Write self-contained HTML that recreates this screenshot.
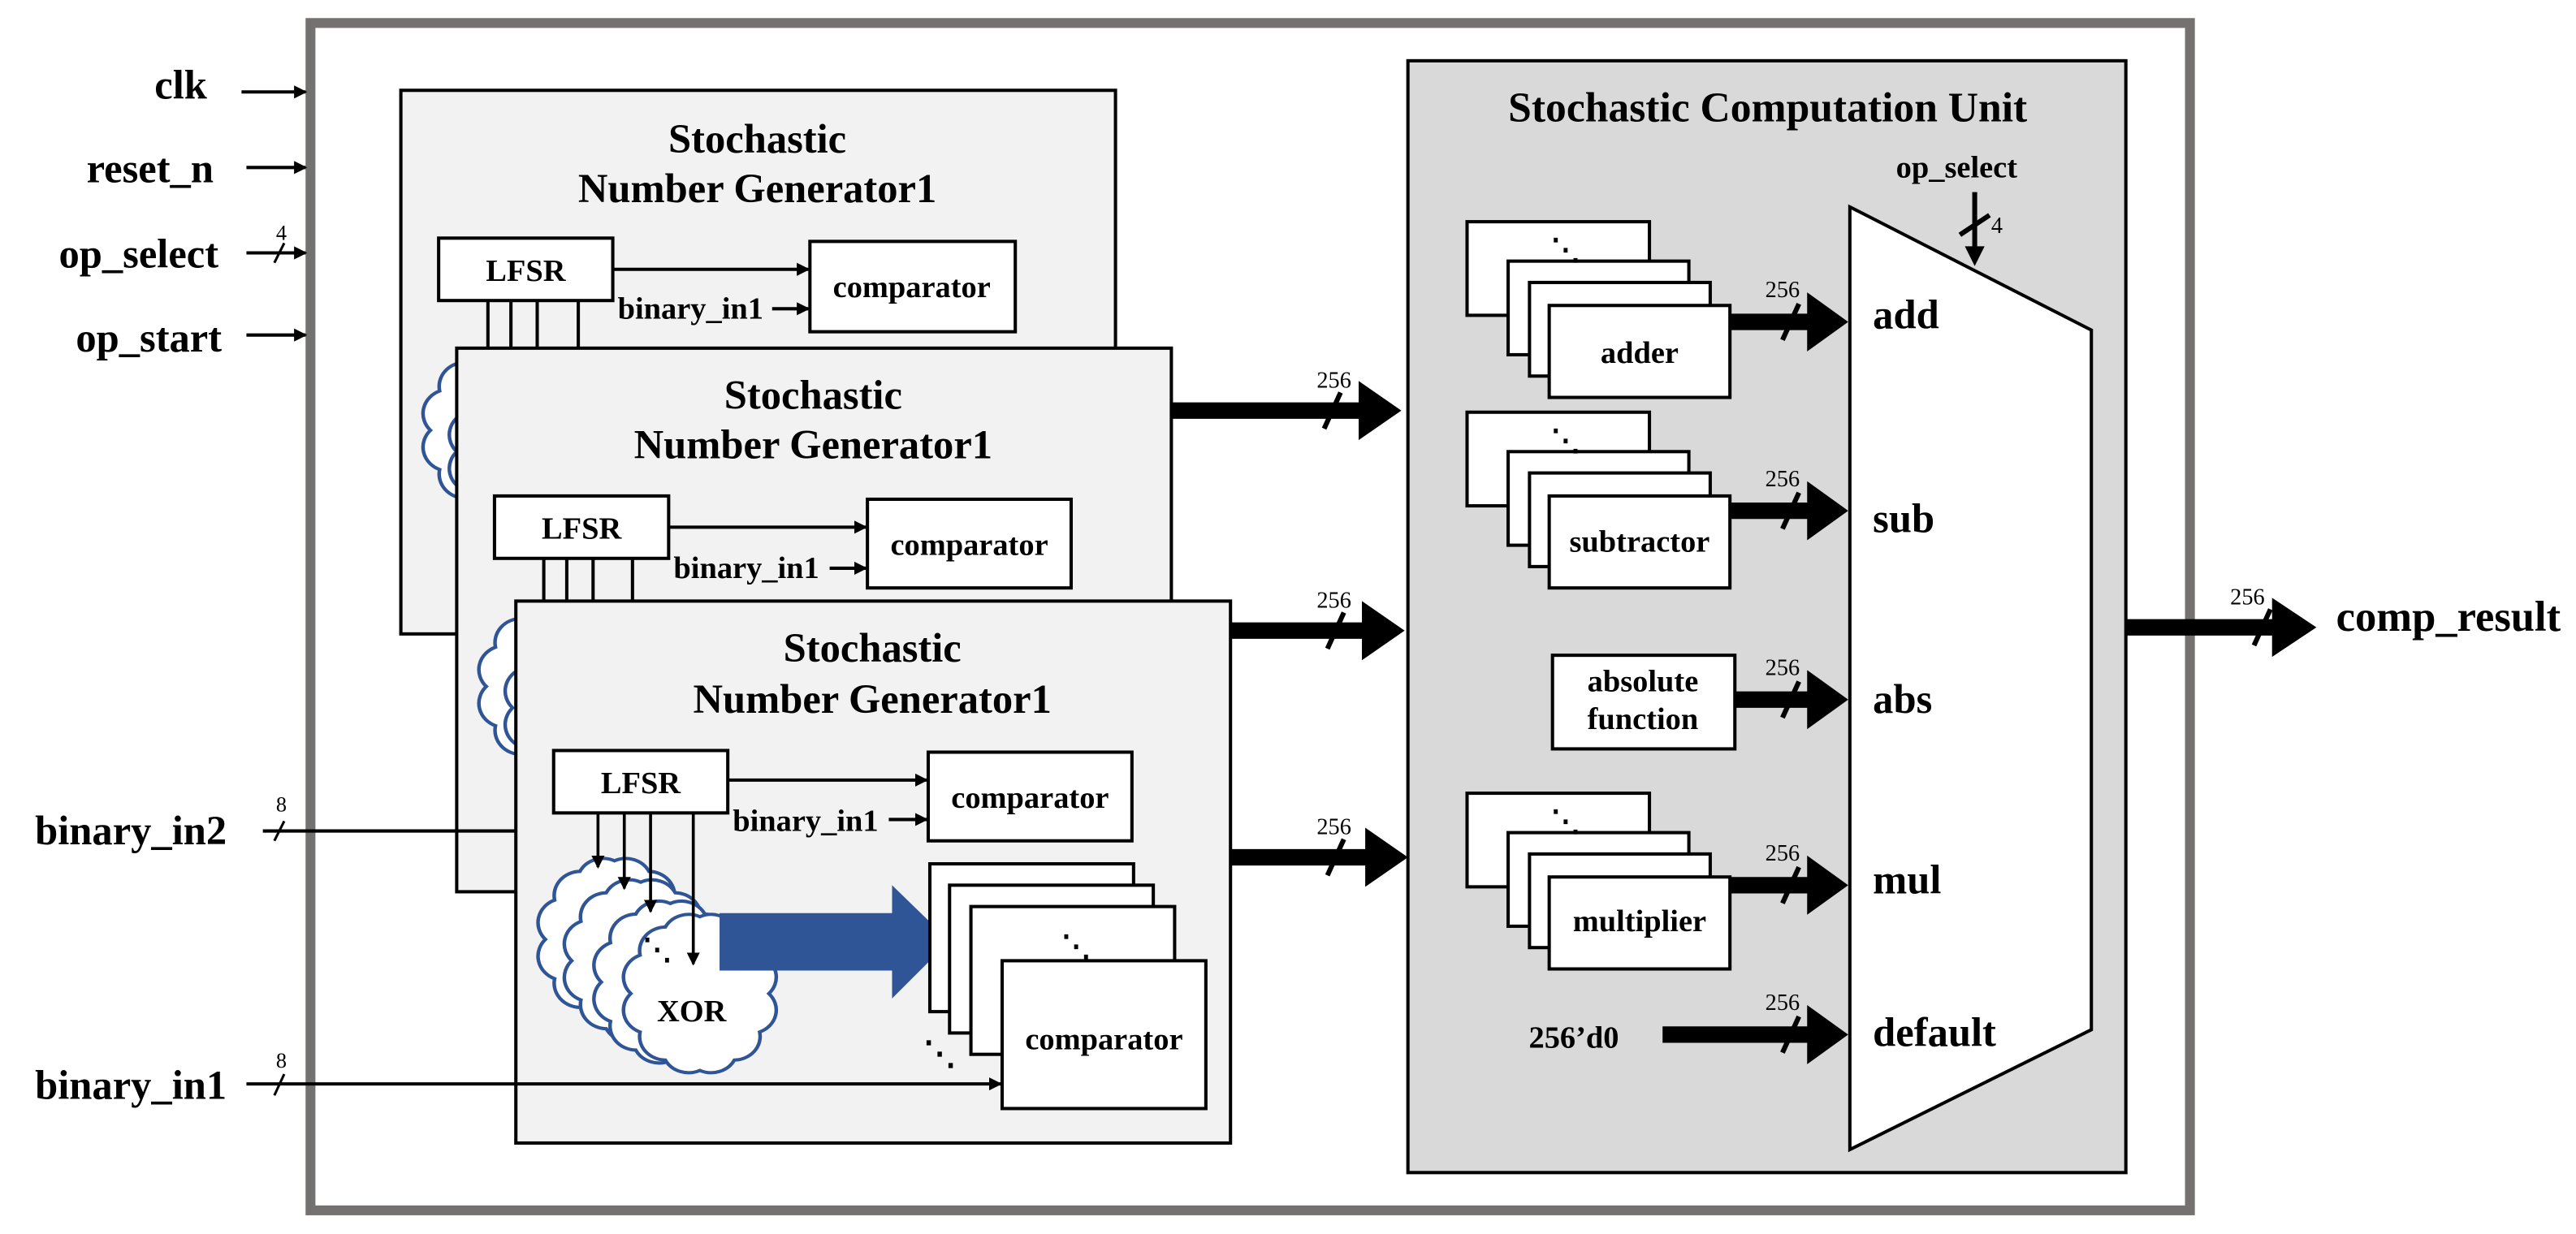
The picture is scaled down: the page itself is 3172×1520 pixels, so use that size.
<!DOCTYPE html>
<html><head><meta charset="utf-8"><style>
html,body{margin:0;padding:0;background:#fff;}
svg{display:block;}
text{font-family:"Liberation Serif",serif;}
.b{font-weight:bold;}
</style></head><body>
<svg width="3172" height="1520" viewBox="0 0 1568 751.4" preserveAspectRatio="none" xmlns="http://www.w3.org/2000/svg">
<defs>
<path id="cloud" d="M42,0 A16,16 0 0,1 36.4,26 A16,16 0 0,1 21,45 A16,16 0 0,1 0,52 A16,16 0 0,1 -21,45 A16,16 0 0,1 -36.4,26 A16,16 0 0,1 -42,0 A16,16 0 0,1 -36.4,-26 A16,16 0 0,1 -21,-45 A16,16 0 0,1 0,-52 A16,16 0 0,1 21,-45 A16,16 0 0,1 36.4,-26 A16,16 0 0,1 42,0 Z" fill="#fff" stroke="#2f5597" stroke-width="2.2"/>
<marker id="ah" markerWidth="8" markerHeight="8" refX="7" refY="4" orient="auto" markerUnits="userSpaceOnUse"><path d="M0,0 L8,4 L0,8 Z" fill="#000"/></marker>
</defs>
<rect x="0" y="0" width="1568" height="751.4" fill="#fff"/>
<rect x="189" y="14" width="1144" height="723" fill="#fff" stroke="#767171" stroke-width="6"/>

<g class="b" font-size="25" text-anchor="end">
<text x="126" y="60" class="b">clk</text>
<text x="130" y="111" class="b">reset_n</text>
<text x="133" y="163" class="b">op_select</text>
<text x="135" y="214" class="b">op_start</text>
<text x="138" y="514" class="b">binary_in2</text>
<text x="138" y="669" class="b">binary_in1</text>
</g>
<g stroke="#000" stroke-width="2" marker-end="url(#ah)">
<line x1="147" y1="56" x2="186" y2="56"/>
<line x1="150" y1="102" x2="186" y2="102"/>
<line x1="150" y1="154" x2="186" y2="154"/>
<line x1="150" y1="204" x2="186" y2="204"/>
</g>
<line x1="167" y1="160" x2="173" y2="148" stroke="#000" stroke-width="1.5"/>
<text x="168" y="146" font-size="13">4</text>

<!-- SNG1 -->
<g>
<rect x="244" y="55" width="435" height="331" fill="#f2f2f2" stroke="#000" stroke-width="2"/>
<text x="461" y="93" font-size="25" class="b" text-anchor="middle">Stochastic</text>
<text x="461" y="123" font-size="25" class="b" text-anchor="middle">Number Generator1</text>
<rect x="267" y="145" width="106" height="38" fill="#fff" stroke="#000" stroke-width="2"/>
<text x="320" y="171" font-size="19" class="b" text-anchor="middle">LFSR</text>
<rect x="493" y="147" width="125" height="55" fill="#fff" stroke="#000" stroke-width="2"/>
<text x="555" y="181" font-size="19" class="b" text-anchor="middle">comparator</text>
<line x1="373" y1="164" x2="492" y2="164" stroke="#000" stroke-width="2" marker-end="url(#ah)"/>
<text x="376" y="194" font-size="19" class="b">binary_in1</text>
<line x1="470" y1="188" x2="492" y2="188" stroke="#000" stroke-width="2" marker-end="url(#ah)"/>
<g stroke="#000" stroke-width="2"><line x1="297" y1="183" x2="297" y2="215"/><line x1="311" y1="183" x2="311" y2="215"/><line x1="327" y1="183" x2="327" y2="215"/><line x1="352" y1="183" x2="352" y2="215"/></g>
<use href="#cloud" transform="translate(304,262) scale(1,0.92)"/>
<use href="#cloud" transform="translate(320,275) scale(1,0.92)"/>
</g>

<!-- SNG2 -->
<g>
<rect x="278" y="212" width="435" height="331" fill="#f2f2f2" stroke="#000" stroke-width="2"/>
<text x="495" y="249" font-size="25" class="b" text-anchor="middle">Stochastic</text>
<text x="495" y="279" font-size="25" class="b" text-anchor="middle">Number Generator1</text>
<rect x="301" y="302" width="106" height="38" fill="#fff" stroke="#000" stroke-width="2"/>
<text x="354" y="328" font-size="19" class="b" text-anchor="middle">LFSR</text>
<rect x="528" y="304" width="124" height="54" fill="#fff" stroke="#000" stroke-width="2"/>
<text x="590" y="338" font-size="19" class="b" text-anchor="middle">comparator</text>
<line x1="407" y1="321" x2="527" y2="321" stroke="#000" stroke-width="2" marker-end="url(#ah)"/>
<text x="410" y="352" font-size="19" class="b">binary_in1</text>
<line x1="505" y1="346" x2="527" y2="346" stroke="#000" stroke-width="2" marker-end="url(#ah)"/>
<g stroke="#000" stroke-width="2"><line x1="331" y1="340" x2="331" y2="370"/><line x1="345" y1="340" x2="345" y2="370"/><line x1="361" y1="340" x2="361" y2="370"/><line x1="385" y1="340" x2="385" y2="370"/></g>
<use href="#cloud" transform="translate(338,418) scale(1,0.92)"/>
<use href="#cloud" transform="translate(354,431) scale(1,0.92)"/>
</g>

<line x1="160" y1="506" x2="314" y2="506" stroke="#000" stroke-width="2"/>
<line x1="167" y1="512" x2="173" y2="500" stroke="#000" stroke-width="1.5"/>
<text x="168" y="494" font-size="13">8</text>

<!-- SNG3 -->
<g>
<rect x="314" y="366" width="435" height="330" fill="#f2f2f2" stroke="#000" stroke-width="2"/>
<text x="531" y="403" font-size="25" class="b" text-anchor="middle">Stochastic</text>
<text x="531" y="434" font-size="25" class="b" text-anchor="middle">Number Generator1</text>
<rect x="337" y="457" width="106" height="38" fill="#fff" stroke="#000" stroke-width="2"/>
<text x="390" y="483" font-size="19" class="b" text-anchor="middle">LFSR</text>
<rect x="565" y="458" width="124" height="54" fill="#fff" stroke="#000" stroke-width="2"/>
<text x="627" y="492" font-size="19" class="b" text-anchor="middle">comparator</text>
<line x1="443" y1="475" x2="564" y2="475" stroke="#000" stroke-width="2" marker-end="url(#ah)"/>
<text x="446" y="506" font-size="19" class="b">binary_in1</text>
<line x1="541" y1="499" x2="564" y2="499" stroke="#000" stroke-width="2" marker-end="url(#ah)"/>
<use href="#cloud" transform="translate(374,572) scale(1,0.92)"/>
<use href="#cloud" transform="translate(390,585) scale(1,0.92)"/>
<use href="#cloud" transform="translate(408,598) scale(1,0.92)"/>
<use href="#cloud" transform="translate(426,605) scale(1,0.9)"/>
<text x="421" y="622" font-size="19" class="b" text-anchor="middle">XOR</text>
<g stroke="#000" stroke-width="1.8" marker-end="url(#ah)">
<line x1="364" y1="495" x2="364" y2="528"/>
<line x1="380" y1="495" x2="380" y2="541"/>
<line x1="396" y1="495" x2="396" y2="555"/>
<line x1="422" y1="495" x2="422" y2="587"/>
</g>
<text x="400" y="584" font-size="18" class="b" text-anchor="middle">⋱</text>
<polygon points="438,556 543,556 543,539 578,573 543,608 543,591 438,591" fill="#2f5597"/>
<rect x="566" y="526" width="124" height="90" fill="#fff" stroke="#000" stroke-width="2"/>
<rect x="578" y="539" width="124" height="90" fill="#fff" stroke="#000" stroke-width="2"/>
<rect x="591" y="552" width="124" height="90" fill="#fff" stroke="#000" stroke-width="2"/>
<text x="655" y="582" font-size="18" class="b" text-anchor="middle">⋱</text>
<rect x="610" y="585" width="124" height="90" fill="#fff" stroke="#000" stroke-width="2"/>
<text x="672" y="639" font-size="19" class="b" text-anchor="middle">comparator</text>
<text x="572" y="648" font-size="20" class="b" text-anchor="middle">⋱</text>
</g>

<line x1="150" y1="660" x2="609" y2="660" stroke="#000" stroke-width="2" marker-end="url(#ah)"/>
<line x1="167" y1="667" x2="173" y2="654" stroke="#000" stroke-width="1.5"/>
<text x="168" y="650" font-size="13">8</text>

<!-- SCU -->
<rect x="857" y="37" width="437" height="677" fill="#d9d9d9" stroke="#000" stroke-width="2"/>
<text x="1076" y="74" font-size="25.5" class="b" text-anchor="middle">Stochastic Computation Unit</text>
<text x="1191" y="108" font-size="19" class="b" text-anchor="middle">op_select</text>
<line x1="1202" y1="117" x2="1202" y2="152" stroke="#000" stroke-width="3"/>
<polygon points="1196,150 1208,150 1202,162" fill="#000"/>
<line x1="1193" y1="143" x2="1211" y2="131" stroke="#000" stroke-width="3"/>
<text x="1212" y="142" font-size="14">4</text>
<polygon points="1126,126 1273,201 1273,627 1126,700" fill="#fff" stroke="#000" stroke-width="2"/>
<g font-size="25" class="b">
<text x="1140" y="200" class="b">add</text>
<text x="1140" y="324" class="b">sub</text>
<text x="1140" y="434" class="b">abs</text>
<text x="1140" y="544" class="b">mul</text>
<text x="1140" y="637" class="b">default</text>
</g>
<g stroke="#000" stroke-width="2" fill="#fff">
<rect x="893" y="135" width="111" height="57"/>
<rect x="918" y="159" width="110" height="57"/>
<rect x="931" y="172" width="110" height="57"/>
<rect x="943" y="186" width="110" height="56"/>
<rect x="893" y="251" width="111" height="57"/>
<rect x="918" y="275" width="110" height="57"/>
<rect x="931" y="288" width="110" height="57"/>
<rect x="943" y="302" width="110" height="56"/>
<rect x="945" y="399" width="111" height="57"/>
<rect x="893" y="483" width="111" height="57"/>
<rect x="918" y="507" width="110" height="57"/>
<rect x="931" y="520" width="110" height="57"/>
<rect x="943" y="534" width="110" height="56"/>
</g>
<g font-size="18" class="b" text-anchor="middle">
<text x="953" y="158">⋱</text><text x="953" y="274">⋱</text><text x="953" y="506">⋱</text>
</g>
<g font-size="19" class="b" text-anchor="middle">
<text x="998" y="221" class="b">adder</text>
<text x="998" y="336" class="b">subtractor</text>
<text x="1000" y="421" class="b">absolute</text>
<text x="1000" y="444" class="b">function</text>
<text x="998" y="567" class="b">multiplier</text>
<text x="958" y="638" class="b">256’d0</text>
</g>

<g>
<g><line x1="1053" y1="196" x2="1102" y2="196" stroke="#000" stroke-width="10"/><polygon points="1100,178 1125,196 1100,214"/><line x1="1085" y1="207" x2="1095" y2="185" stroke="#000" stroke-width="3"/><text x="1085" y="181" font-size="14" text-anchor="middle">256</text></g>
<g><line x1="1053" y1="311" x2="1102" y2="311" stroke="#000" stroke-width="10"/><polygon points="1100,293 1125,311 1100,329"/><line x1="1085" y1="322" x2="1095" y2="300" stroke="#000" stroke-width="3"/><text x="1085" y="296" font-size="14" text-anchor="middle">256</text></g>
<g><line x1="1056" y1="426" x2="1102" y2="426" stroke="#000" stroke-width="10"/><polygon points="1100,408 1125,426 1100,444"/><line x1="1085" y1="437" x2="1095" y2="415" stroke="#000" stroke-width="3"/><text x="1085" y="411" font-size="14" text-anchor="middle">256</text></g>
<g><line x1="1053" y1="539" x2="1102" y2="539" stroke="#000" stroke-width="10"/><polygon points="1100,521 1125,539 1100,557"/><line x1="1085" y1="550" x2="1095" y2="528" stroke="#000" stroke-width="3"/><text x="1085" y="524" font-size="14" text-anchor="middle">256</text></g>
<g><line x1="1012" y1="630" x2="1102" y2="630" stroke="#000" stroke-width="10"/><polygon points="1100,612 1125,630 1100,648"/><line x1="1085" y1="641" x2="1095" y2="619" stroke="#000" stroke-width="3"/><text x="1085" y="615" font-size="14" text-anchor="middle">256</text></g>
<g><line x1="713" y1="250" x2="830" y2="250" stroke="#000" stroke-width="10"/><polygon points="827,232 853,250 827,268"/><line x1="806" y1="261" x2="816" y2="239" stroke="#000" stroke-width="3"/><text x="812" y="236" font-size="14" text-anchor="middle">256</text></g>
<g><line x1="749" y1="384" x2="832" y2="384" stroke="#000" stroke-width="10"/><polygon points="829,366 855,384 829,402"/><line x1="808" y1="395" x2="818" y2="373" stroke="#000" stroke-width="3"/><text x="812" y="370" font-size="14" text-anchor="middle">256</text></g>
<g><line x1="749" y1="522" x2="834" y2="522" stroke="#000" stroke-width="10"/><polygon points="831,504 857,522 831,540"/><line x1="808" y1="533" x2="818" y2="511" stroke="#000" stroke-width="3"/><text x="812" y="508" font-size="14" text-anchor="middle">256</text></g>
<g><line x1="1294" y1="382" x2="1386" y2="382" stroke="#000" stroke-width="10"/><polygon points="1383,364 1410,382 1383,400"/><line x1="1372" y1="393" x2="1382" y2="371" stroke="#000" stroke-width="3"/><text x="1368" y="368" font-size="14" text-anchor="middle">256</text></g>
</g>
<text x="1422" y="384" font-size="26" class="b">comp_result</text>
</svg>
</body></html>
